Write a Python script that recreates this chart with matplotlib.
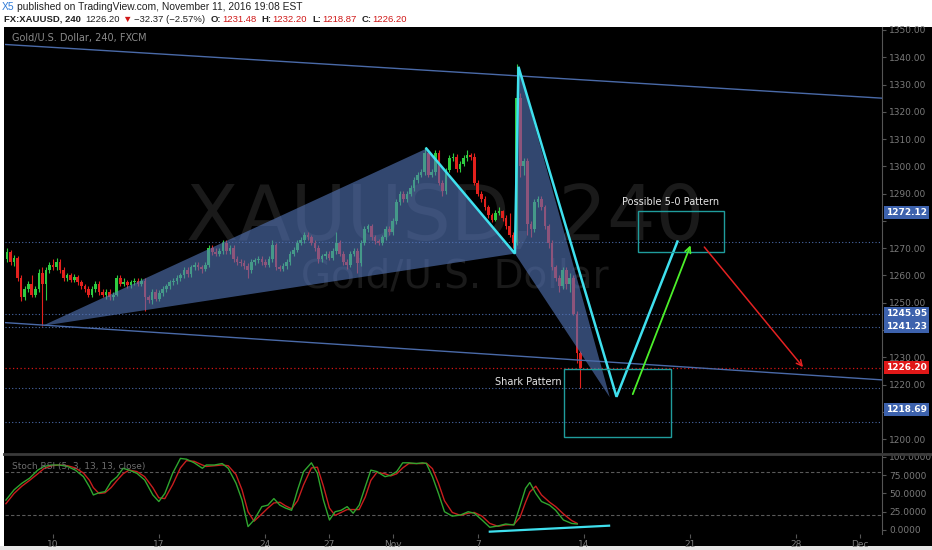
import matplotlib.pyplot as plt
import numpy as np
from matplotlib.patches import Rectangle, Polygon

# 4h bars, index 0 = Oct 10 00:00, first bar index -13
first_bar = -13
first_open = 1266.0
closes = [1268.5, 1265, 1266.5, 1259, 1252, 1255,
          1257, 1253, 1255, 1261, 1257, 1262, 1264,
          1263, 1265, 1262, 1259, 1260, 1258.5,
          1259.5, 1257.5, 1256, 1255, 1253, 1255,
          1257, 1254, 1253, 1254, 1252, 1253,
          1259, 1257, 1257.5, 1256.5, 1257.5, 1258,
          1257, 1258, 1252, 1251, 1254, 1251.5,
          1253.5, 1255, 1256, 1257.5, 1258, 1259,
          1260, 1262, 1260.5, 1263, 1264, 1263,
          1262.5, 1264, 1270, 1268.5, 1268, 1269,
          1272, 1269, 1270, 1266, 1265, 1264.5,
          1263.5, 1262, 1265, 1265.5, 1266, 1265,
          1264, 1266, 1271, 1263, 1262.5, 1263.5,
          1265, 1268, 1269.5, 1272, 1273, 1275,
          1274, 1272, 1270, 1266, 1267, 1268,
          1266.5, 1269, 1272, 1268, 1265, 1264,
          1268, 1269, 1264.5, 1272, 1277, 1278,
          1274, 1272.5, 1272, 1274, 1277, 1276,
          1280, 1287, 1290, 1288, 1290, 1292,
          1295, 1297, 1298, 1305, 1297, 1298,
          1305, 1294, 1291, 1298.5, 1303, 1303.5,
          1299, 1301, 1303, 1304, 1303.5, 1294,
          1290, 1288, 1285, 1282, 1280.5, 1283,
          1283.5, 1281, 1278, 1275, 1272, 1325,
          1300, 1302, 1279, 1277, 1287, 1288,
          1285, 1278, 1272, 1263, 1259, 1256,
          1262, 1257, 1259, 1246, 1231.48, 1226.2]
highs = [1270, 1269.5, 1267.5, 1267, 1260, 1256,
         1258, 1260, 1256, 1262.5, 1263, 1263, 1265,
         1266, 1266.5, 1266, 1263, 1261, 1261,
         1260.5, 1260, 1258.5, 1257, 1256, 1256,
         1258, 1258, 1255, 1255, 1255, 1254,
         1260, 1260, 1259, 1258.5, 1258.5, 1259,
         1259, 1259, 1259, 1253, 1255, 1255,
         1254.5, 1256, 1257, 1258.5, 1259, 1260,
         1261, 1263, 1263, 1264, 1265, 1265,
         1264, 1265, 1271, 1271, 1270, 1270,
         1273, 1273, 1271, 1271, 1267, 1266,
         1265.5, 1264.5, 1266, 1266.5, 1267, 1267,
         1266, 1267, 1273, 1272, 1264, 1264.5,
         1266, 1269, 1270.5, 1273, 1274, 1276,
         1276, 1275, 1273, 1271, 1268, 1269,
         1269, 1270, 1276, 1273, 1269, 1266,
         1269, 1270, 1270, 1273, 1278, 1279,
         1279, 1275, 1273.5, 1275, 1278, 1278,
         1281, 1288, 1291, 1291, 1291, 1293,
         1296, 1298, 1299, 1307, 1306, 1299,
         1306, 1306, 1295, 1299.5, 1304, 1305,
         1304.5, 1302, 1304, 1306, 1305, 1305,
         1295, 1291, 1289, 1286, 1283, 1284,
         1285, 1284, 1282, 1283, 1276, 1337.5,
         1327, 1303, 1303, 1280, 1288, 1289,
         1289, 1286, 1279, 1273, 1264, 1260,
         1263, 1263, 1261, 1260, 1247, 1232.2]
lows = [1265, 1264, 1263.5, 1258, 1250.5, 1251,
        1254, 1252, 1252, 1254, 1241.5, 1251, 1261,
        1262, 1262, 1261, 1258, 1258, 1257.5,
        1257.5, 1256.5, 1255, 1254, 1252, 1252,
        1254, 1253, 1252, 1251.5, 1251, 1251,
        1252.5, 1256, 1256, 1255.5, 1255.5, 1256.5,
        1256, 1256, 1247, 1250, 1249.5, 1250.5,
        1250.5, 1252.5, 1254, 1255, 1256.5, 1257,
        1258, 1259, 1259.5, 1259.5, 1262, 1262,
        1261, 1261.5, 1263, 1267.5, 1267, 1267,
        1268, 1268, 1268, 1265, 1264, 1263.5,
        1262.5, 1259, 1261, 1264, 1264.5, 1264,
        1263, 1263, 1265, 1262, 1261.5, 1261.5,
        1262.5, 1264, 1267, 1268.5, 1271, 1272,
        1273, 1271, 1269, 1264.5, 1265, 1266,
        1265.5, 1265.5, 1268, 1267, 1264, 1262.5,
        1263, 1267, 1261, 1263.5, 1271, 1276,
        1273, 1271.5, 1271, 1271, 1273, 1275,
        1275, 1279, 1286, 1287, 1287, 1289,
        1291, 1294, 1296, 1297, 1296, 1296,
        1297, 1293, 1289, 1290, 1298, 1302,
        1298, 1298, 1300, 1302, 1302.5, 1293,
        1289, 1287, 1284, 1281, 1279.5, 1280,
        1282, 1280, 1277, 1274, 1270, 1271,
        1296, 1297, 1275, 1274, 1276, 1285,
        1284, 1277, 1270, 1262, 1258, 1254,
        1255, 1255, 1254, 1245.5, 1228, 1218.87]

# harmonic pattern X A B C D E  (bar index, price)
pat_idx = [-3, 105.5, 130.5, 131.5, 159.2, 176.4]
pat_price = [1241.5, 1306.5, 1268, 1336.5, 1215.5, 1272.4]
fill_tip = (157.3, 1215.3)

# channel lines
upper_line = ([-13.6, 234.2], [1344.7, 1325.0])
lower_line = ([-13.6, 234.2], [1242.7, 1221.7])

blue_levels = [1272.12, 1245.95, 1241.23, 1218.69, 1206.4]
last_price = 1226.20

# boxes (idx0, idx1, price0, price1)
shark_box = (144.4, 174.5, 1200.6, 1225.7)
fivezero_box = (165.4, 189.5, 1268.5, 1283.6)
green_arrow = ((163.5, 1215.5), (180.4, 1272.0))
red_arrow = ((183.5, 1271.2), (212.4, 1225.6))

# price tags on the axis: (value text, position, colour)
tag_text = ['1272.12', '1245.95', '1241.23', '1226.20', '1218.69']
tag_pos = [1282.9, 1245.95, 1241.23, 1226.2, 1211.0]
tag_col = ['#3d62ad', '#3d62ad', '#3d62ad', '#e01818', '#3d62ad']
hidden_ticks = [1210, 1240, 1280]   # covered by the tags in the original

# stoch rsi read at points
st_idx = [-13.3, -11, -8.8, -6.6, -4.3, -2.6, -0.4, 1.8, 4.1, 6.3, 8.6, 10.3, 11.4,
          13.0, 14.7, 16.4, 18.1, 19.8, 21.5, 23.7, 25.9, 28.2, 29.9, 31.6, 33.8,
          36.0, 37.7, 39.9, 42.2, 43.3, 45.6, 47.8, 49.5, 51.7, 53.4, 55.1, 56.8,
          59.0, 60.7, 62.4, 64.1, 65.7, 67.4, 69.1, 70.8, 73.0, 74.7, 76.4, 78.1,
          79.7, 81.4, 83.1, 84.8, 86.5, 88.2, 89.8, 91.5, 93.8, 95.4, 97.1, 98.8,
          100.5, 102.7, 104.4, 105.5, 107.2, 108.9, 110.6, 112.8, 115.1, 117.3,
          119.0, 121.2, 123.4, 125.7, 127.9, 130.2, 131.9, 133.5, 134.7, 136.4,
          138.0, 140.3, 142.0, 144.2, 146.5, 148.1]
st_k = [41, 55, 64, 71, 82, 87, 89, 89, 87, 82, 73, 59, 48,
        51, 52.5, 66, 73, 84.5, 82, 77.6, 68.5, 48, 39, 50, 77.6,
        98, 97, 92, 84.5, 89, 89, 91, 84.5, 64, 41, 4.6, 13.7,
        32, 34, 43, 34, 30, 27, 55, 80, 92, 77.6, 41, 13.7,
        25, 27, 32, 23, 34, 59, 82, 80, 73, 75, 80, 92,
        92, 91, 92, 91, 73, 50, 25, 19, 20.5, 25,
        23, 13.7, 3.7, 5.5, 8.2, 6.8, 32, 57, 65, 50,
        39, 34, 27, 13.7, 9, 8.2]
st_d = [36, 50, 60, 68, 77, 84, 88, 89, 88, 85, 78, 68, 58,
        50, 51, 58, 68, 77, 82, 80, 73, 58, 44, 43, 62,
        85, 95, 94, 89, 87, 88, 89, 88, 76, 55, 25, 12,
        22, 30, 37, 38, 33, 29, 40, 62, 85, 86, 60, 30,
        20, 24, 28, 28, 28, 45, 68, 79, 77, 74, 77, 85,
        91, 91, 91, 91.5, 84, 64, 40, 24, 20, 23,
        24, 19, 9, 5, 7, 7.5, 17, 38, 52, 60,
        48, 38, 32, 22, 13, 9]
div_line = ([123.4, 157.1], [-2.3, 5.9])

tick_idx = [0, 30, 60, 78, 96, 120, 150, 180, 210, 228]
tick_lab = ['10', '17', '24', '27', 'Nov', '7', '14', '21', '28', 'Dec']

W, H = 932, 550
fig = plt.figure(figsize=(W / 100, H / 100), dpi=100)
fig.patch.set_facecolor('white')
fig.add_artist(Rectangle((4 / W, 4 / H), 928 / W, (546 - 27) / H, transform=fig.transFigure,
                         facecolor='#000000', edgecolor='none', zorder=0))
fig.add_artist(Rectangle((0, 0), 1, 4 / H, transform=fig.transFigure,
                         facecolor='#e6e6e6', edgecolor='none', zorder=0))

ax = fig.add_axes([5 / W, 1 - 452 / H, 877 / W, 425 / H])
ax2 = fig.add_axes([5 / W, 1 - 534 / H, 877 / W, 79 / H], sharex=ax)
for a in (ax, ax2):
    a.set_facecolor('#000000')
    for s in ['top', 'left', 'bottom']:
        a.spines[s].set_visible(False)
    a.spines['right'].set_color('#555555')
    a.yaxis.tick_right()
    a.tick_params(axis='y', colors='#555555', labelcolor='#7a7a7a', labelsize=6.5, length=3, pad=2)

ax.set_xlim(-13.56, 234.2)
ax.set_ylim(1195.25, 1351.1)
yt = np.arange(1200, 1351, 10)
ax.set_yticks(yt)
ax.set_yticklabels(['' if v in hidden_ticks else '%.2f' % v for v in yt])
ax.tick_params(axis='x', bottom=False, labelbottom=False)

# separator line between panels
fig.add_artist(plt.Line2D([4 / W, 1], [1 - 453.5 / H] * 2, transform=fig.transFigure,
                          color='#3a3a3a', lw=2, zorder=5))

# watermark
ax.text(0.502, 0.548, 'XAUUSD, 240', transform=ax.transAxes, ha='center', va='center',
        fontsize=55, color='#1a1a1a', zorder=0.5)
ax.text(0.513, 0.414, 'Gold/U.S. Dollar', transform=ax.transAxes, ha='center', va='center',
        fontsize=28, color='#1a1a1a', zorder=0.5)
ax.text(0.008, 0.975, 'Gold/U.S. Dollar, 240, FXCM', transform=ax.transAxes, ha='left', va='center',
        fontsize=7, color='#8a8a8a')

# levels
for lv in blue_levels:
    ax.axhline(lv, color='#4a6aa8', lw=0.8, ls=(0, (1, 2)), zorder=1)
ax.axhline(last_price, color='#d41414', lw=0.9, ls=(0, (1, 2)), zorder=1)

# candles
n = len(closes)
idx = np.arange(first_bar, first_bar + n)
opens = np.array([first_open] + closes[:-1])
c = np.array(closes)
up = c >= opens
cols = np.where(up, '#2ecc40', '#e3211d')
ax.vlines(idx, lows, highs, colors=cols, lw=0.8, zorder=2)
ax.bar(idx, np.maximum(np.abs(c - opens), 0.4), bottom=np.minimum(c, opens), width=0.75,
       color=cols, edgecolor='none', zorder=2)

# pattern fills
X, A, B, C, D, E = list(zip(pat_idx, pat_price))
ax.add_patch(Polygon([X, A, B], closed=True, facecolor='#5577bb', alpha=0.6, edgecolor='none', zorder=3))
ax.add_patch(Polygon([B, C, fill_tip], closed=True, facecolor='#5577bb', alpha=0.6, edgecolor='none', zorder=3))

# channel
ax.plot(*upper_line, color='#4a6aa8', lw=1, zorder=4)
ax.plot(*lower_line, color='#4a6aa8', lw=1, zorder=4)

# cyan legs
ax.plot([A[0], B[0], C[0], D[0], E[0]], [A[1], B[1], C[1], D[1], E[1]],
        color='#3fe0ee', lw=1.8, zorder=5, solid_joinstyle='miter')

for (x0, x1, y0, y1) in (shark_box, fivezero_box):
    ax.add_patch(Rectangle((x0, y0), x1 - x0, y1 - y0, facecolor='none', edgecolor='#1f9c9c', lw=1, zorder=5))

ax.annotate('', xy=green_arrow[1], xytext=green_arrow[0],
            arrowprops=dict(arrowstyle='->', color='#4cf02a', lw=1.3, mutation_scale=10), zorder=6)
ax.annotate('', xy=red_arrow[1], xytext=red_arrow[0],
            arrowprops=dict(arrowstyle='->', color='#e42222', lw=1.1, mutation_scale=10), zorder=6)

ax.text(124.9, 1221.0, 'Shark Pattern', color='#e6e6e6', fontsize=7, ha='left', va='center', zorder=6)
ax.text(160.7, 1287.0, 'Possible 5-0 Pattern', color='#e6e6e6', fontsize=7, ha='left', va='center', zorder=6)

# price tags
for t, p, col in zip(tag_text, tag_pos, tag_col):
    ax.annotate(t, xy=(1.0, p), xycoords=('axes fraction', 'data'), xytext=(3, 0),
                textcoords='offset points', ha='left', va='center', fontsize=6.5,
                fontweight='bold', color='white', annotation_clip=False, zorder=10,
                bbox=dict(boxstyle='square,pad=0.22', fc=col, ec='none'))

# stoch rsi panel
ax2.set_ylim(-5.5, 102.7)
ax2.set_yticks([0, 25, 50, 75, 100])
ax2.set_yticklabels(['%.4f' % v for v in [0, 25, 50, 75, 100]])
for lv in (80, 20):
    ax2.axhline(lv, color='#5a5a5a', lw=0.8, ls=(0, (3, 2)), zorder=1)
ax2.plot(st_idx, st_d, color='#c81e1e', lw=1, zorder=2)
ax2.plot(st_idx, st_k, color='#2fa52f', lw=1, zorder=3)
ax2.plot(*div_line, color='#3fe0ee', lw=1.6, zorder=4)
ax2.text(0.008, 0.86, 'Stoch RSI (5, 3, 13, 13, close)', transform=ax2.transAxes,
         fontsize=6.5, color='#6e6e6e', ha='left', va='center')
ax2.set_xticks(tick_idx)
ax2.set_xticklabels(tick_lab)
ax2.tick_params(axis='x', colors='#555555', labelcolor='#7a7a7a', labelsize=6.5, length=3, pad=1)

# header, pieces laid out one after another
renderer = fig.canvas.get_renderer()

def hdr_line(x, y, parts, size):
    for s, col, weight, gap in parts:
        t = fig.text(x / W, 1 - y / H, s, color=col, fontsize=size, fontweight=weight,
                     family='Liberation Sans', ha='left', va='center')
        x += t.get_window_extent(renderer=renderer).width + gap

dark = '#222222'
red = '#d01818'
hdr_line(2, 7, [('X5', '#2f7bd8', 'normal', 2),
                ('published on TradingView.com, November 11, 2016 19:08 EST', dark, 'normal', 0)], 7.4)
hdr_line(4, 19, [('FX:XAUUSD, 240', dark, 'bold', 4),
                 ('1226.20', dark, 'normal', 3),
                 ('\u25bc', red, 'normal', 2),
                 ('\u221232.37 (\u22122.57%)', dark, 'normal', 6),
                 ('O:', dark, 'bold', 1), ('1231.48', red, 'normal', 5),
                 ('H:', dark, 'bold', 1), ('1232.20', red, 'normal', 5),
                 ('L:', dark, 'bold', 1), ('1218.87', red, 'normal', 5),
                 ('C:', dark, 'bold', 1), ('1226.20', red, 'normal', 0)], 6.8)

fig.savefig('out.png', dpi=100, facecolor=fig.get_facecolor())
